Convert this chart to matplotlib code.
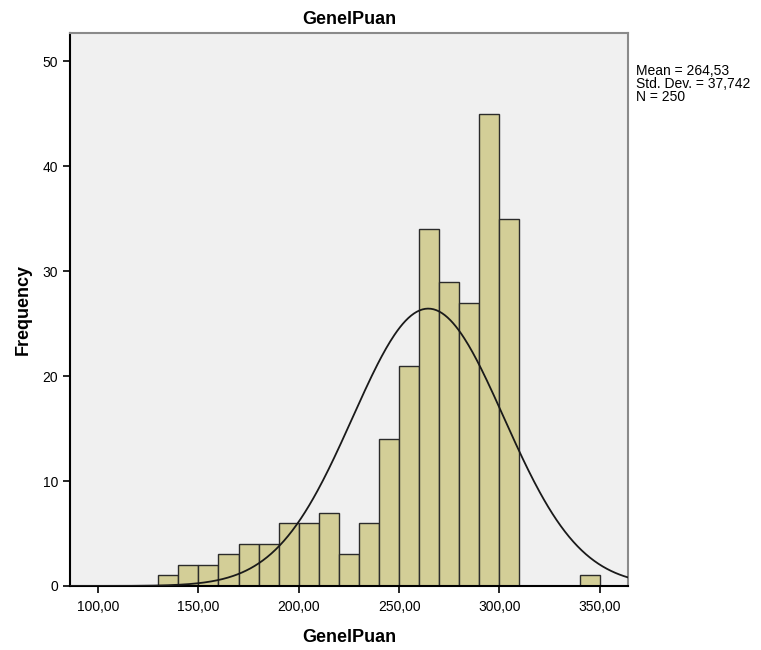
import numpy as np
import matplotlib
matplotlib.use("Agg")
import matplotlib.pyplot as plt

plt.rcParams["font.family"] = ["Liberation Sans", "DejaVu Sans"]

# histogram bins (left edges) and counts
bin_left = [130, 140, 150, 160, 170, 180, 190, 200, 210, 220, 230, 240,
            250, 260, 270, 280, 290, 300, 340]
counts = [1, 2, 2, 3, 4, 4, 6, 6, 7, 3, 6, 14, 21, 34, 29, 27, 45, 35, 1]
bin_width = 10
mean = 264.53
std = 37.742
n = 250

fig = plt.figure(figsize=(7.61, 6.5), dpi=100)
ax = fig.add_axes([0.092, 0.0985, 0.733, 0.851])
ax.set_facecolor("#F0F0F0")

ax.bar(bin_left, counts, width=bin_width, align="edge",
       color="#D3CE97", edgecolor="#2b2b2b", linewidth=1.0, zorder=2)

# normal curve scaled to counts
xs = np.linspace(86, 364, 400)
ys = n * bin_width * np.exp(-0.5 * ((xs - mean) / std) ** 2) / (std * np.sqrt(2 * np.pi))
ax.plot(xs, ys, color="#1a1a1a", linewidth=1.3, zorder=3)

ax.set_xlim(86, 364)
ax.set_ylim(0, 52.7)
ax.set_xticks([100, 150, 200, 250, 300, 350])
ax.set_xticklabels(["100,00", "150,00", "200,00", "250,00", "300,00", "350,00"])
ax.set_yticks([0, 10, 20, 30, 40, 50])
ax.tick_params(axis="both", labelsize=10, length=5, width=1.2, color="black")
ax.tick_params(axis="x", pad=5)

for side in ["top", "right"]:
    ax.spines[side].set_color("#8a8a8a")
    ax.spines[side].set_linewidth(1.5)
for side in ["left", "bottom"]:
    ax.spines[side].set_color("black")
    ax.spines[side].set_linewidth(1.5)

ax.set_title("GenelPuan", fontsize=13, fontweight="bold", pad=6)
ax.set_xlabel("GenelPuan", fontsize=13, fontweight="bold", labelpad=11)
ax.set_ylabel("Frequency", fontsize=13, fontweight="bold", labelpad=8)

fig.text(0.836, 0.902, "Mean = 264,53\nStd. Dev. = 37,742\nN = 250",
         fontsize=10, va="top", ha="left", linespacing=0.92)

fig.savefig("out.png", dpi=100)
